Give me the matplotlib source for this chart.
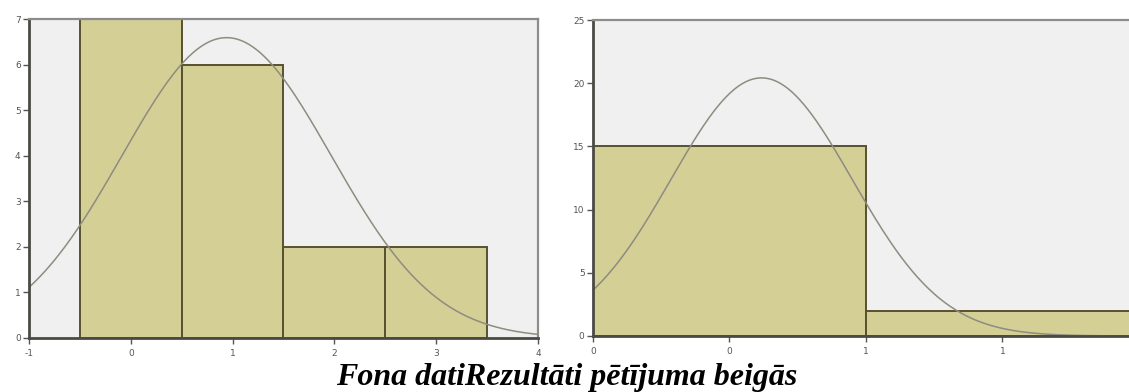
import math

import matplotlib
matplotlib.use("Agg")
import matplotlib.pyplot as plt
import numpy as np


# Histogram data: score values and their frequencies
fona_values = [0, 1, 2, 3]
fona_counts = [7, 6, 2, 2]
fona_xticks = [-1, 0, 1, 2, 3, 4]
fona_xlabels = ["-1", "0", "1", "2", "3", "4"]
fona_yticks = [0, 1, 2, 3, 4, 5, 6, 7]

beigas_values = [0, 1]
beigas_counts = [15, 2]
beigas_xticks = [-0.5, 0.0, 0.5, 1.0]
beigas_xlabels = ["0", "0", "1", "1"]
beigas_yticks = [0, 5, 10, 15, 20, 25]

CAPTION = "Fona datiRezultāti pētījuma beigās"

BAR_FILL = "#d3cf95"
BAR_EDGE = "#56512f"
CURVE = "#8e8c80"
PANEL_BG = "#f0f0f0"


def normal_curve(values, counts, x, bin_width=1.0):
    values = np.asarray(values, dtype=float)
    counts = np.asarray(counts, dtype=float)
    n = counts.sum()
    mean = (values * counts).sum() / n
    var = (counts * (values - mean) ** 2).sum() / (n - 1)
    sd = math.sqrt(var)
    return n * bin_width / (sd * math.sqrt(2 * math.pi)) * np.exp(-(x - mean) ** 2 / (2 * var))


def draw_hist(ax, values, counts, xlim, ylim, xticks, xlabels, yticks):
    ax.set_facecolor(PANEL_BG)
    ax.bar(values, counts, width=1.0, color=BAR_FILL, edgecolor=BAR_EDGE,
           linewidth=1.4, zorder=2)
    xs = np.linspace(xlim[0], xlim[1], 400)
    ax.plot(xs, normal_curve(values, counts, xs), color=CURVE, linewidth=1.1, zorder=3)
    ax.set_xlim(*xlim)
    ax.set_ylim(*ylim)
    ax.set_xticks(xticks)
    ax.set_xticklabels(xlabels)
    ax.set_yticks(yticks)
    ax.tick_params(axis="both", labelsize=6.5, colors="#555555", length=4, width=1.0, pad=2)
    ax.tick_params(axis="x", pad=4)
    for side in ["left", "bottom"]:
        ax.spines[side].set_color("#4a4a45")
        ax.spines[side].set_linewidth(2.0)
    for side in ["top", "right"]:
        ax.spines[side].set_color("#8c8c8c")
        ax.spines[side].set_linewidth(1.6)
    for spine in ax.spines.values():
        spine.set_zorder(4)


fig = plt.figure(figsize=(11.29, 3.92), dpi=100)

ax_left = fig.add_axes([0.0257, 0.1378, 0.4508, 0.8137])
draw_hist(ax_left, fona_values, fona_counts, (-1, 4), (0, 7),
          fona_xticks, fona_xlabels, fona_yticks)

ax_right = fig.add_axes([0.5252, 0.1429, 0.4836, 0.806])
draw_hist(ax_right, beigas_values, beigas_counts, (-0.5, 1.5), (0, 25),
          beigas_xticks, beigas_xlabels, beigas_yticks)

fig.text(0.502, 0.018, CAPTION, ha="center", va="baseline", fontsize=23,
         fontweight="bold", fontstyle="italic", family="Liberation Serif")

fig.savefig("out.png", dpi=100)
